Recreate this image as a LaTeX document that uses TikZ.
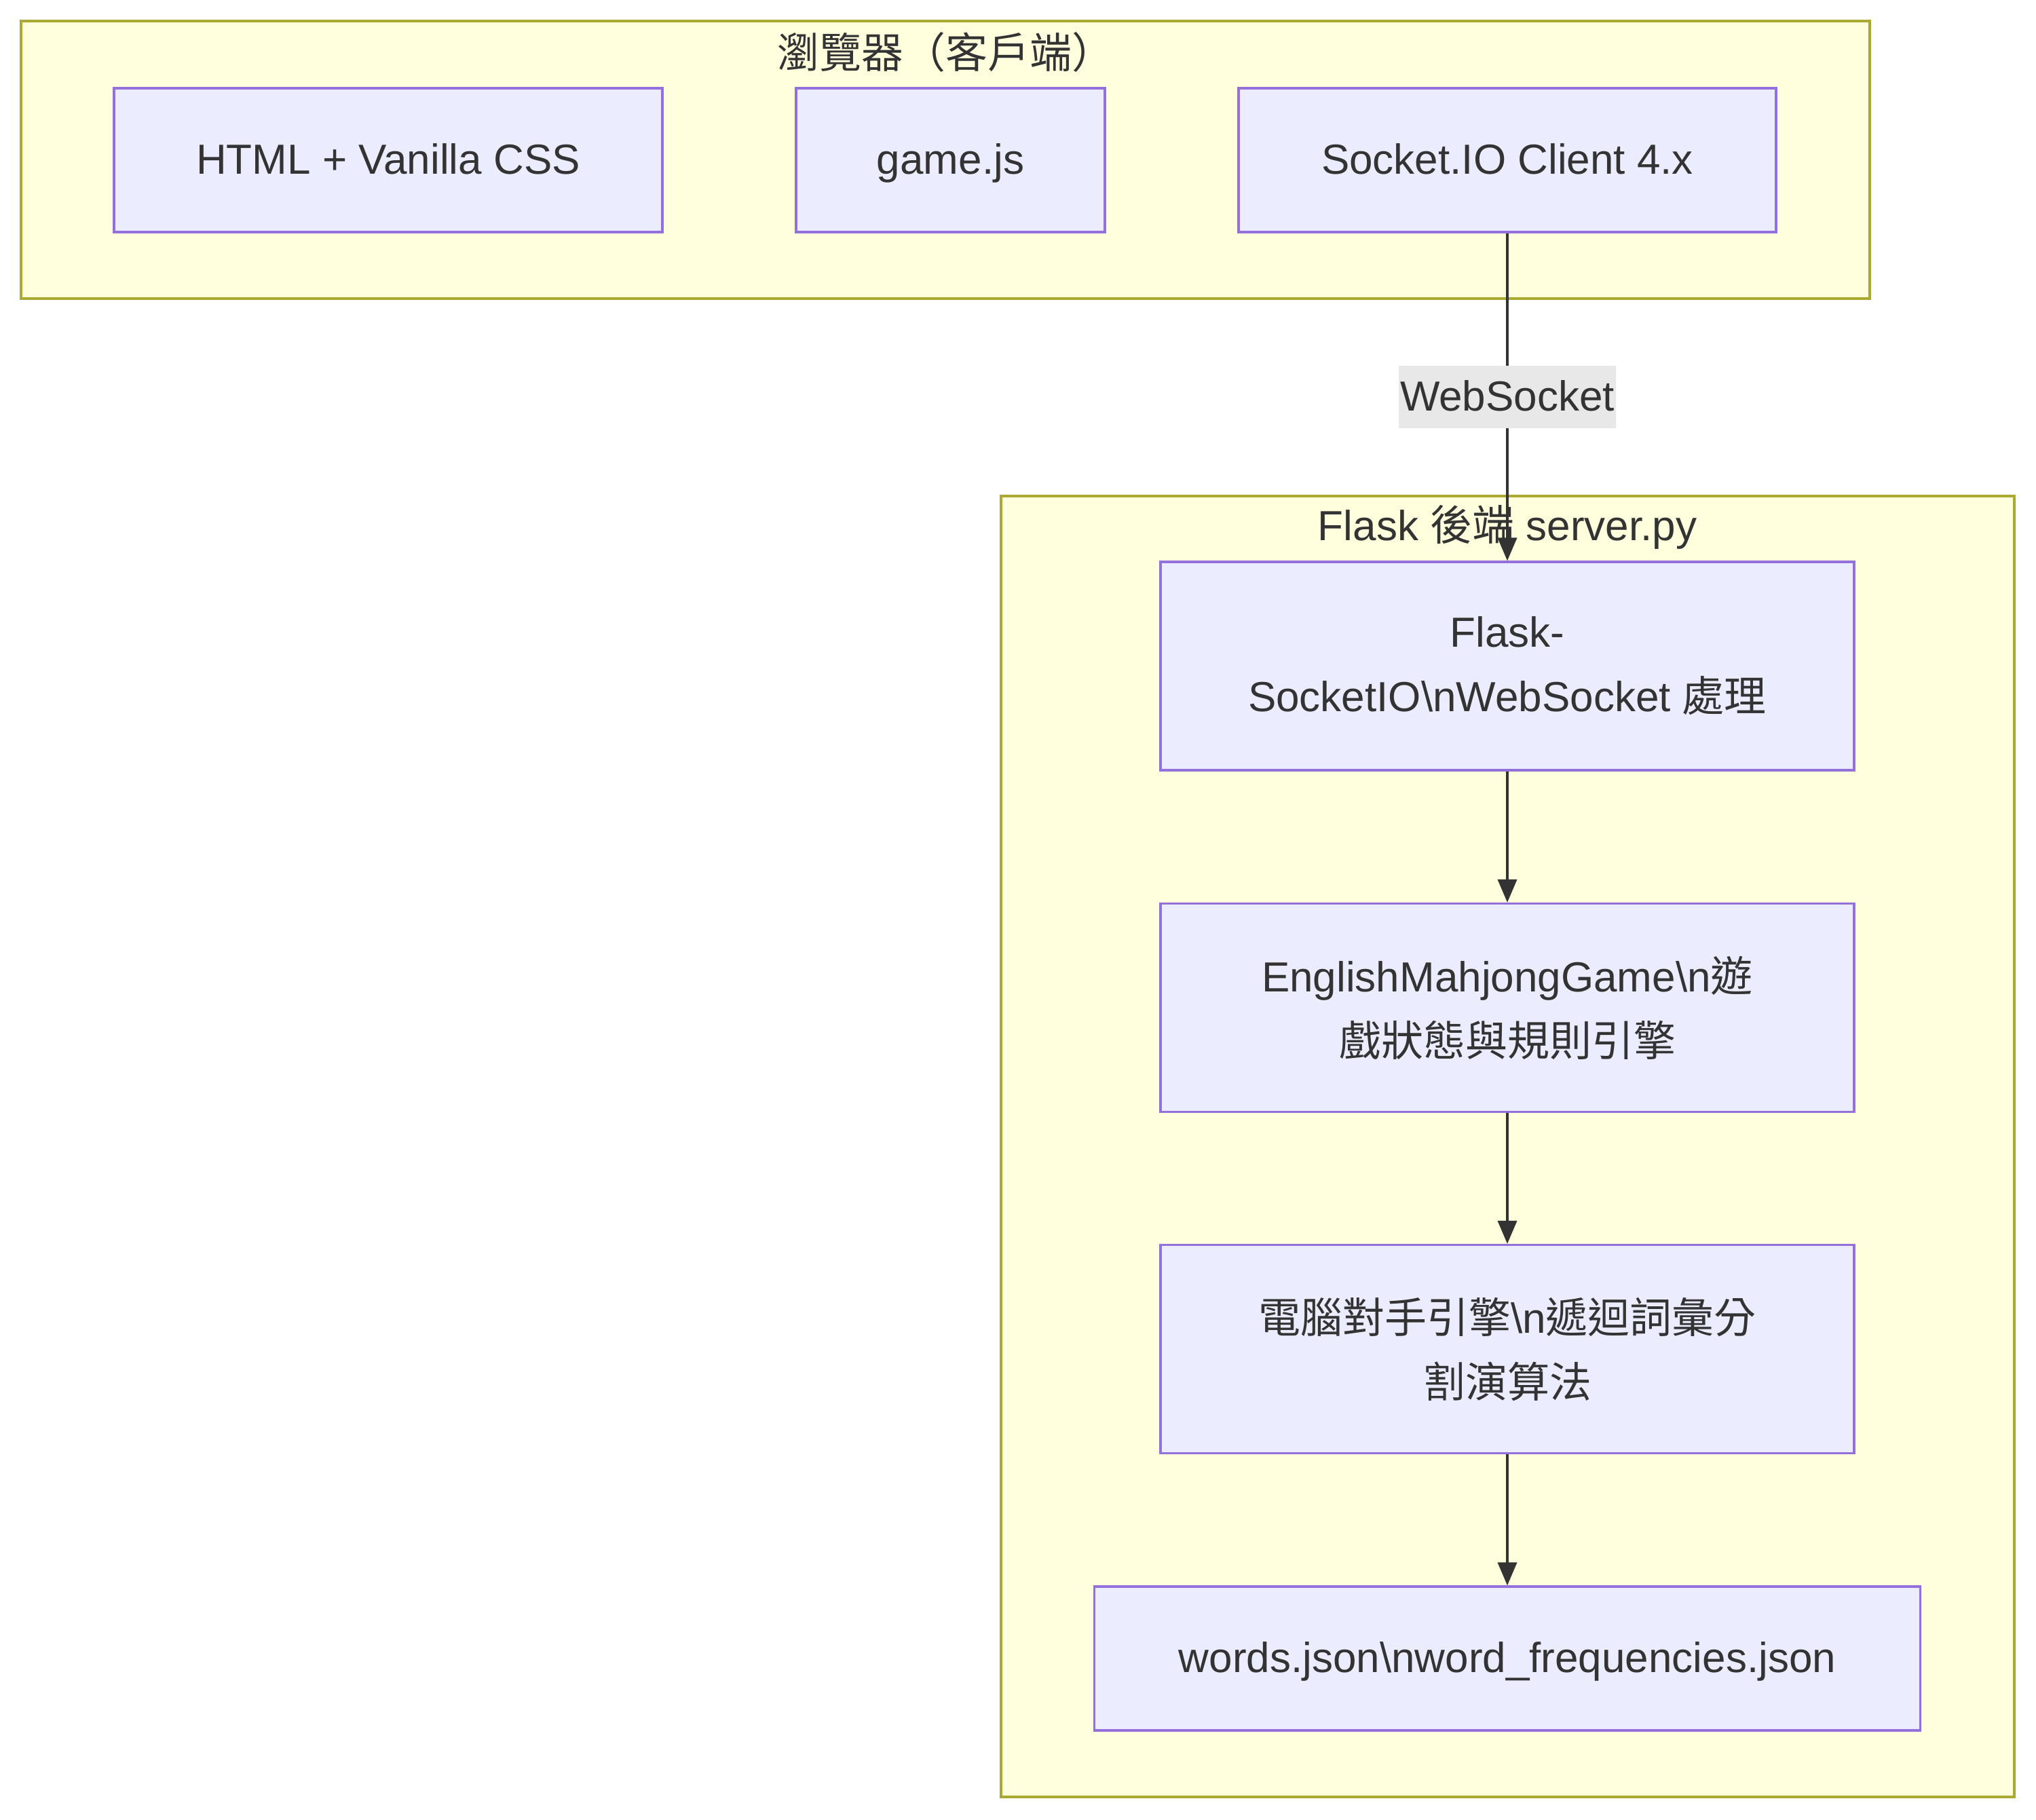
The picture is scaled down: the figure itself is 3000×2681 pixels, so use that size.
\documentclass[tikz,border=0pt]{standalone}
\usepackage{fontspec}
\setmainfont{Liberation Sans}
\newfontfamily\cjk{Noto Sans CJK TC}
\newcommand{\zh}[1]{{\cjk #1}}
\usetikzlibrary{arrows.meta}
\definecolor{clfill}{HTML}{FFFFDE}
\definecolor{clline}{HTML}{AAAA33}
\definecolor{ndfill}{HTML}{ECECFF}
\definecolor{ndline}{HTML}{9370DB}
\definecolor{txt}{HTML}{333333}
\definecolor{lblbg}{HTML}{E8E8E8}
\tikzset{
  cluster/.style={draw=clline, fill=clfill, line width=0.8pt, inner sep=0pt},
  box/.style={draw=ndline, fill=ndfill, line width=0.8pt, text=txt, align=center,
    inner sep=0pt, font=\fontsize{15.5pt}{23.75pt}\selectfont},
  oneline/.style={box, text height=12.5pt, text depth=2.5pt},
  ttl/.style={text=txt, inner sep=0pt, font=\fontsize{15.5pt}{23.75pt}\selectfont},
  conn/.style={draw=txt, line width=0.9pt, -{Triangle[length=8.5pt,width=7pt]}},
  lbl/.style={fill=lblbg, text=txt, inner sep=0pt, minimum width=80pt, minimum height=23pt,
    text height=12.5pt, text depth=2.5pt, font=\fontsize{15.5pt}{23.75pt}\selectfont}
}
\begin{document}
\begin{tikzpicture}[x=0.25pt,y=-0.25pt]
\useasboundingbox[fill=white] (0,0) rectangle (3000,2681);
% clusters
\node[cluster, minimum width=681pt, minimum height=102.25pt] (cl1) at (1393,235.5) {};
\node[ttl] (cl1t) at (1393,77) {\zh{瀏覽器（客戶端）}};
\node[cluster, minimum width=373.25pt, minimum height=479.25pt] (cl2) at (2221.5,1689.5) {};
\node[ttl] (cl2t) at (2221,777) {Flask \zh{後端} server.py};
% top nodes
\node[oneline, minimum width=202pt, minimum height=53pt] (html) at (572,236) {HTML + Vanilla CSS};
\node[oneline, minimum width=113.75pt, minimum height=53pt] (game) at (1400.5,236) {game.js};
\node[oneline, minimum width=198pt, minimum height=53pt] (sock) at (2221,236) {Socket.IO Client 4.x};
% bottom nodes
\node[box, minimum width=255.5pt, minimum height=76.75pt] (flask) at (2221,981.5) {Flask-\\SocketIO\textbackslash nWebSocket \zh{處理}};
\node[box, minimum width=255.5pt, minimum height=76.75pt] (eng) at (2221,1485) {EnglishMahjongGame\textbackslash n\zh{遊}\\\zh{戲狀態與規則引擎}};
\node[box, minimum width=255.5pt, minimum height=76.75pt] (ai) at (2221,1988) {\zh{電腦對手引擎}\textbackslash n\zh{遞迴詞彙分}\\\zh{割演算法}};
\node[oneline, minimum width=304.25pt, minimum height=53pt] (words) at (2221,2444) {words.json\textbackslash nword\_frequencies.json};
% connectors
\draw[conn] (sock.south) -- node[lbl] (wsl) {WebSocket} (flask.north);
\draw[conn] (flask.south) -- (eng.north);
\draw[conn] (eng.south) -- (ai.north);
\draw[conn] (ai.south) -- (words.north);
\end{tikzpicture}
\end{document}
